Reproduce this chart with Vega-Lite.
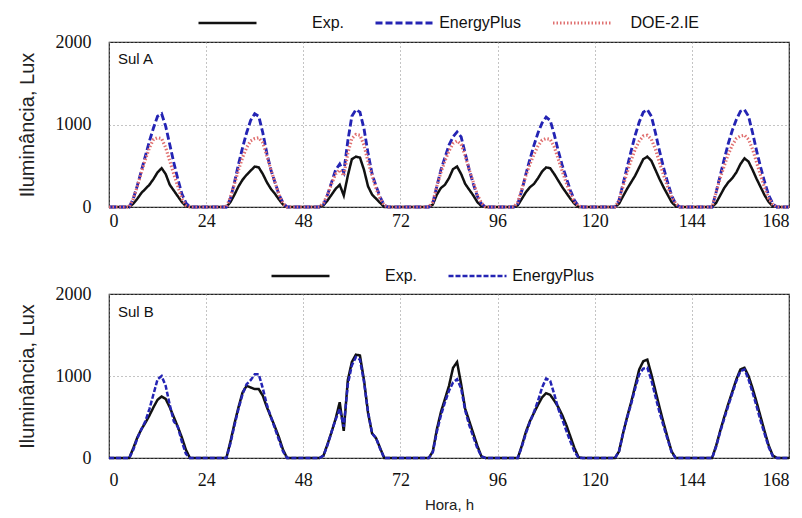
{
"$schema": "https://vega.github.io/schema/vega-lite/v6.json",
"background": "white",
"padding": {"left": 16, "top": 13, "right": 8, "bottom": 4},
"spacing": 35,
"datasets": {
"A": [
{"h":0,"s":"Exp.","v":0},{"h":5,"s":"Exp.","v":0},{"h":6,"s":"Exp.","v":40},{"h":7,"s":"Exp.","v":100},{"h":8,"s":"Exp.","v":170},{"h":9,"s":"Exp.","v":220},{"h":10,"s":"Exp.","v":270},{"h":11,"s":"Exp.","v":340},{"h":12,"s":"Exp.","v":420},{"h":13,"s":"Exp.","v":470},{"h":14,"s":"Exp.","v":400},{"h":15,"s":"Exp.","v":270},{"h":16,"s":"Exp.","v":200},{"h":17,"s":"Exp.","v":130},{"h":18,"s":"Exp.","v":60},{"h":19,"s":"Exp.","v":10},{"h":20,"s":"Exp.","v":0},
{"h":29,"s":"Exp.","v":0},{"h":30,"s":"Exp.","v":60},{"h":31,"s":"Exp.","v":150},{"h":32,"s":"Exp.","v":250},{"h":33,"s":"Exp.","v":330},{"h":34,"s":"Exp.","v":390},{"h":35,"s":"Exp.","v":440},{"h":36,"s":"Exp.","v":490},{"h":37,"s":"Exp.","v":480},{"h":38,"s":"Exp.","v":400},{"h":39,"s":"Exp.","v":300},{"h":40,"s":"Exp.","v":220},{"h":41,"s":"Exp.","v":160},{"h":42,"s":"Exp.","v":90},{"h":43,"s":"Exp.","v":30},{"h":44,"s":"Exp.","v":0},
{"h":52,"s":"Exp.","v":0},{"h":53,"s":"Exp.","v":20},{"h":54,"s":"Exp.","v":80},{"h":55,"s":"Exp.","v":150},{"h":56,"s":"Exp.","v":220},{"h":57,"s":"Exp.","v":270},{"h":58,"s":"Exp.","v":140},{"h":59,"s":"Exp.","v":380},{"h":60,"s":"Exp.","v":580},{"h":61,"s":"Exp.","v":610},{"h":62,"s":"Exp.","v":600},{"h":63,"s":"Exp.","v":450},{"h":64,"s":"Exp.","v":250},{"h":65,"s":"Exp.","v":150},{"h":66,"s":"Exp.","v":100},{"h":67,"s":"Exp.","v":50},{"h":68,"s":"Exp.","v":0},
{"h":79,"s":"Exp.","v":0},{"h":80,"s":"Exp.","v":30},{"h":81,"s":"Exp.","v":150},{"h":82,"s":"Exp.","v":230},{"h":83,"s":"Exp.","v":270},{"h":84,"s":"Exp.","v":350},{"h":85,"s":"Exp.","v":460},{"h":86,"s":"Exp.","v":490},{"h":87,"s":"Exp.","v":400},{"h":88,"s":"Exp.","v":280},{"h":89,"s":"Exp.","v":210},{"h":90,"s":"Exp.","v":140},{"h":91,"s":"Exp.","v":60},{"h":92,"s":"Exp.","v":10},{"h":93,"s":"Exp.","v":0},
{"h":100,"s":"Exp.","v":0},{"h":101,"s":"Exp.","v":20},{"h":102,"s":"Exp.","v":100},{"h":103,"s":"Exp.","v":180},{"h":104,"s":"Exp.","v":240},{"h":105,"s":"Exp.","v":280},{"h":106,"s":"Exp.","v":350},{"h":107,"s":"Exp.","v":430},{"h":108,"s":"Exp.","v":480},{"h":109,"s":"Exp.","v":470},{"h":110,"s":"Exp.","v":400},{"h":111,"s":"Exp.","v":320},{"h":112,"s":"Exp.","v":240},{"h":113,"s":"Exp.","v":170},{"h":114,"s":"Exp.","v":100},{"h":115,"s":"Exp.","v":40},{"h":116,"s":"Exp.","v":0},
{"h":125,"s":"Exp.","v":0},{"h":126,"s":"Exp.","v":40},{"h":127,"s":"Exp.","v":130},{"h":128,"s":"Exp.","v":220},{"h":129,"s":"Exp.","v":300},{"h":130,"s":"Exp.","v":380},{"h":131,"s":"Exp.","v":480},{"h":132,"s":"Exp.","v":580},{"h":133,"s":"Exp.","v":610},{"h":134,"s":"Exp.","v":560},{"h":135,"s":"Exp.","v":450},{"h":136,"s":"Exp.","v":340},{"h":137,"s":"Exp.","v":240},{"h":138,"s":"Exp.","v":150},{"h":139,"s":"Exp.","v":60},{"h":140,"s":"Exp.","v":10},{"h":141,"s":"Exp.","v":0},
{"h":149,"s":"Exp.","v":0},{"h":150,"s":"Exp.","v":50},{"h":151,"s":"Exp.","v":140},{"h":152,"s":"Exp.","v":230},{"h":153,"s":"Exp.","v":300},{"h":154,"s":"Exp.","v":350},{"h":155,"s":"Exp.","v":420},{"h":156,"s":"Exp.","v":520},{"h":157,"s":"Exp.","v":590},{"h":158,"s":"Exp.","v":550},{"h":159,"s":"Exp.","v":450},{"h":160,"s":"Exp.","v":340},{"h":161,"s":"Exp.","v":240},{"h":162,"s":"Exp.","v":140},{"h":163,"s":"Exp.","v":60},{"h":164,"s":"Exp.","v":10},{"h":165,"s":"Exp.","v":0},{"h":168,"s":"Exp.","v":0},

{"h":0,"s":"EnergyPlus","v":0},{"h":5,"s":"EnergyPlus","v":0},{"h":6,"s":"EnergyPlus","v":100},{"h":7,"s":"EnergyPlus","v":260},{"h":8,"s":"EnergyPlus","v":440},{"h":9,"s":"EnergyPlus","v":620},{"h":10,"s":"EnergyPlus","v":800},{"h":11,"s":"EnergyPlus","v":960},{"h":12,"s":"EnergyPlus","v":1100},{"h":13,"s":"EnergyPlus","v":1130},{"h":14,"s":"EnergyPlus","v":980},{"h":15,"s":"EnergyPlus","v":760},{"h":16,"s":"EnergyPlus","v":540},{"h":17,"s":"EnergyPlus","v":340},{"h":18,"s":"EnergyPlus","v":160},{"h":19,"s":"EnergyPlus","v":50},{"h":20,"s":"EnergyPlus","v":0},
{"h":29,"s":"EnergyPlus","v":0},{"h":30,"s":"EnergyPlus","v":100},{"h":31,"s":"EnergyPlus","v":300},{"h":32,"s":"EnergyPlus","v":520},{"h":33,"s":"EnergyPlus","v":720},{"h":34,"s":"EnergyPlus","v":900},{"h":35,"s":"EnergyPlus","v":1050},{"h":36,"s":"EnergyPlus","v":1130},{"h":37,"s":"EnergyPlus","v":1100},{"h":38,"s":"EnergyPlus","v":900},{"h":39,"s":"EnergyPlus","v":650},{"h":40,"s":"EnergyPlus","v":450},{"h":41,"s":"EnergyPlus","v":300},{"h":42,"s":"EnergyPlus","v":150},{"h":43,"s":"EnergyPlus","v":50},{"h":44,"s":"EnergyPlus","v":0},
{"h":52,"s":"EnergyPlus","v":0},{"h":53,"s":"EnergyPlus","v":30},{"h":54,"s":"EnergyPlus","v":150},{"h":55,"s":"EnergyPlus","v":300},{"h":56,"s":"EnergyPlus","v":450},{"h":57,"s":"EnergyPlus","v":520},{"h":58,"s":"EnergyPlus","v":420},{"h":59,"s":"EnergyPlus","v":800},{"h":60,"s":"EnergyPlus","v":1100},{"h":61,"s":"EnergyPlus","v":1180},{"h":62,"s":"EnergyPlus","v":1150},{"h":63,"s":"EnergyPlus","v":950},{"h":64,"s":"EnergyPlus","v":650},{"h":65,"s":"EnergyPlus","v":400},{"h":66,"s":"EnergyPlus","v":250},{"h":67,"s":"EnergyPlus","v":120},{"h":68,"s":"EnergyPlus","v":20},{"h":69,"s":"EnergyPlus","v":0},
{"h":79,"s":"EnergyPlus","v":0},{"h":80,"s":"EnergyPlus","v":50},{"h":81,"s":"EnergyPlus","v":250},{"h":82,"s":"EnergyPlus","v":450},{"h":83,"s":"EnergyPlus","v":600},{"h":84,"s":"EnergyPlus","v":750},{"h":85,"s":"EnergyPlus","v":850},{"h":86,"s":"EnergyPlus","v":910},{"h":87,"s":"EnergyPlus","v":850},{"h":88,"s":"EnergyPlus","v":650},{"h":89,"s":"EnergyPlus","v":450},{"h":90,"s":"EnergyPlus","v":280},{"h":91,"s":"EnergyPlus","v":130},{"h":92,"s":"EnergyPlus","v":40},{"h":93,"s":"EnergyPlus","v":0},
{"h":100,"s":"EnergyPlus","v":0},{"h":101,"s":"EnergyPlus","v":40},{"h":102,"s":"EnergyPlus","v":200},{"h":103,"s":"EnergyPlus","v":400},{"h":104,"s":"EnergyPlus","v":580},{"h":105,"s":"EnergyPlus","v":750},{"h":106,"s":"EnergyPlus","v":900},{"h":107,"s":"EnergyPlus","v":1020},{"h":108,"s":"EnergyPlus","v":1090},{"h":109,"s":"EnergyPlus","v":1050},{"h":110,"s":"EnergyPlus","v":880},{"h":111,"s":"EnergyPlus","v":680},{"h":112,"s":"EnergyPlus","v":500},{"h":113,"s":"EnergyPlus","v":350},{"h":114,"s":"EnergyPlus","v":200},{"h":115,"s":"EnergyPlus","v":80},{"h":116,"s":"EnergyPlus","v":10},{"h":117,"s":"EnergyPlus","v":0},
{"h":125,"s":"EnergyPlus","v":0},{"h":126,"s":"EnergyPlus","v":80},{"h":127,"s":"EnergyPlus","v":280},{"h":128,"s":"EnergyPlus","v":480},{"h":129,"s":"EnergyPlus","v":680},{"h":130,"s":"EnergyPlus","v":870},{"h":131,"s":"EnergyPlus","v":1030},{"h":132,"s":"EnergyPlus","v":1150},{"h":133,"s":"EnergyPlus","v":1180},{"h":134,"s":"EnergyPlus","v":1100},{"h":135,"s":"EnergyPlus","v":900},{"h":136,"s":"EnergyPlus","v":680},{"h":137,"s":"EnergyPlus","v":480},{"h":138,"s":"EnergyPlus","v":300},{"h":139,"s":"EnergyPlus","v":140},{"h":140,"s":"EnergyPlus","v":40},{"h":141,"s":"EnergyPlus","v":0},
{"h":149,"s":"EnergyPlus","v":0},{"h":150,"s":"EnergyPlus","v":180},{"h":151,"s":"EnergyPlus","v":380},{"h":152,"s":"EnergyPlus","v":580},{"h":153,"s":"EnergyPlus","v":770},{"h":154,"s":"EnergyPlus","v":930},{"h":155,"s":"EnergyPlus","v":1060},{"h":156,"s":"EnergyPlus","v":1160},{"h":157,"s":"EnergyPlus","v":1180},{"h":158,"s":"EnergyPlus","v":1100},{"h":159,"s":"EnergyPlus","v":900},{"h":160,"s":"EnergyPlus","v":680},{"h":161,"s":"EnergyPlus","v":480},{"h":162,"s":"EnergyPlus","v":300},{"h":163,"s":"EnergyPlus","v":140},{"h":164,"s":"EnergyPlus","v":40},{"h":165,"s":"EnergyPlus","v":0},{"h":168,"s":"EnergyPlus","v":0},

{"h":0,"s":"DOE-2.IE","v":0},{"h":5,"s":"DOE-2.IE","v":0},{"h":6,"s":"DOE-2.IE","v":100},{"h":7,"s":"DOE-2.IE","v":250},{"h":8,"s":"DOE-2.IE","v":420},{"h":9,"s":"DOE-2.IE","v":580},{"h":10,"s":"DOE-2.IE","v":720},{"h":11,"s":"DOE-2.IE","v":820},{"h":12,"s":"DOE-2.IE","v":840},{"h":13,"s":"DOE-2.IE","v":830},{"h":14,"s":"DOE-2.IE","v":720},{"h":15,"s":"DOE-2.IE","v":560},{"h":16,"s":"DOE-2.IE","v":400},{"h":17,"s":"DOE-2.IE","v":250},{"h":18,"s":"DOE-2.IE","v":100},{"h":19,"s":"DOE-2.IE","v":20},{"h":20,"s":"DOE-2.IE","v":0},
{"h":29,"s":"DOE-2.IE","v":0},{"h":30,"s":"DOE-2.IE","v":120},{"h":31,"s":"DOE-2.IE","v":280},{"h":32,"s":"DOE-2.IE","v":450},{"h":33,"s":"DOE-2.IE","v":600},{"h":34,"s":"DOE-2.IE","v":720},{"h":35,"s":"DOE-2.IE","v":800},{"h":36,"s":"DOE-2.IE","v":830},{"h":37,"s":"DOE-2.IE","v":840},{"h":38,"s":"DOE-2.IE","v":780},{"h":39,"s":"DOE-2.IE","v":620},{"h":40,"s":"DOE-2.IE","v":450},{"h":41,"s":"DOE-2.IE","v":300},{"h":42,"s":"DOE-2.IE","v":150},{"h":43,"s":"DOE-2.IE","v":40},{"h":44,"s":"DOE-2.IE","v":0},
{"h":52,"s":"DOE-2.IE","v":0},{"h":53,"s":"DOE-2.IE","v":50},{"h":54,"s":"DOE-2.IE","v":150},{"h":55,"s":"DOE-2.IE","v":280},{"h":56,"s":"DOE-2.IE","v":400},{"h":57,"s":"DOE-2.IE","v":450},{"h":58,"s":"DOE-2.IE","v":380},{"h":59,"s":"DOE-2.IE","v":650},{"h":60,"s":"DOE-2.IE","v":830},{"h":61,"s":"DOE-2.IE","v":880},{"h":62,"s":"DOE-2.IE","v":870},{"h":63,"s":"DOE-2.IE","v":750},{"h":64,"s":"DOE-2.IE","v":550},{"h":65,"s":"DOE-2.IE","v":380},{"h":66,"s":"DOE-2.IE","v":220},{"h":67,"s":"DOE-2.IE","v":100},{"h":68,"s":"DOE-2.IE","v":20},{"h":69,"s":"DOE-2.IE","v":0},
{"h":79,"s":"DOE-2.IE","v":0},{"h":80,"s":"DOE-2.IE","v":60},{"h":81,"s":"DOE-2.IE","v":250},{"h":82,"s":"DOE-2.IE","v":420},{"h":83,"s":"DOE-2.IE","v":560},{"h":84,"s":"DOE-2.IE","v":680},{"h":85,"s":"DOE-2.IE","v":770},{"h":86,"s":"DOE-2.IE","v":800},{"h":87,"s":"DOE-2.IE","v":760},{"h":88,"s":"DOE-2.IE","v":620},{"h":89,"s":"DOE-2.IE","v":450},{"h":90,"s":"DOE-2.IE","v":300},{"h":91,"s":"DOE-2.IE","v":150},{"h":92,"s":"DOE-2.IE","v":50},{"h":93,"s":"DOE-2.IE","v":0},
{"h":100,"s":"DOE-2.IE","v":0},{"h":101,"s":"DOE-2.IE","v":60},{"h":102,"s":"DOE-2.IE","v":220},{"h":103,"s":"DOE-2.IE","v":380},{"h":104,"s":"DOE-2.IE","v":520},{"h":105,"s":"DOE-2.IE","v":640},{"h":106,"s":"DOE-2.IE","v":740},{"h":107,"s":"DOE-2.IE","v":810},{"h":108,"s":"DOE-2.IE","v":830},{"h":109,"s":"DOE-2.IE","v":820},{"h":110,"s":"DOE-2.IE","v":730},{"h":111,"s":"DOE-2.IE","v":580},{"h":112,"s":"DOE-2.IE","v":430},{"h":113,"s":"DOE-2.IE","v":290},{"h":114,"s":"DOE-2.IE","v":160},{"h":115,"s":"DOE-2.IE","v":60},{"h":116,"s":"DOE-2.IE","v":10},{"h":117,"s":"DOE-2.IE","v":0},
{"h":125,"s":"DOE-2.IE","v":0},{"h":126,"s":"DOE-2.IE","v":80},{"h":127,"s":"DOE-2.IE","v":250},{"h":128,"s":"DOE-2.IE","v":420},{"h":129,"s":"DOE-2.IE","v":570},{"h":130,"s":"DOE-2.IE","v":700},{"h":131,"s":"DOE-2.IE","v":800},{"h":132,"s":"DOE-2.IE","v":860},{"h":133,"s":"DOE-2.IE","v":870},{"h":134,"s":"DOE-2.IE","v":820},{"h":135,"s":"DOE-2.IE","v":700},{"h":136,"s":"DOE-2.IE","v":540},{"h":137,"s":"DOE-2.IE","v":390},{"h":138,"s":"DOE-2.IE","v":250},{"h":139,"s":"DOE-2.IE","v":120},{"h":140,"s":"DOE-2.IE","v":40},{"h":141,"s":"DOE-2.IE","v":0},
{"h":149,"s":"DOE-2.IE","v":0},{"h":150,"s":"DOE-2.IE","v":180},{"h":151,"s":"DOE-2.IE","v":350},{"h":152,"s":"DOE-2.IE","v":500},{"h":153,"s":"DOE-2.IE","v":640},{"h":154,"s":"DOE-2.IE","v":750},{"h":155,"s":"DOE-2.IE","v":830},{"h":156,"s":"DOE-2.IE","v":860},{"h":157,"s":"DOE-2.IE","v":870},{"h":158,"s":"DOE-2.IE","v":820},{"h":159,"s":"DOE-2.IE","v":700},{"h":160,"s":"DOE-2.IE","v":540},{"h":161,"s":"DOE-2.IE","v":380},{"h":162,"s":"DOE-2.IE","v":230},{"h":163,"s":"DOE-2.IE","v":100},{"h":164,"s":"DOE-2.IE","v":30},{"h":165,"s":"DOE-2.IE","v":0},{"h":168,"s":"DOE-2.IE","v":0}
],
"B": [
{"h":0,"s":"Exp.","v":0},{"h":5,"s":"Exp.","v":0},{"h":6,"s":"Exp.","v":120},{"h":7,"s":"Exp.","v":250},{"h":8,"s":"Exp.","v":350},{"h":9,"s":"Exp.","v":430},{"h":10,"s":"Exp.","v":520},{"h":11,"s":"Exp.","v":620},{"h":12,"s":"Exp.","v":710},{"h":13,"s":"Exp.","v":750},{"h":14,"s":"Exp.","v":720},{"h":15,"s":"Exp.","v":620},{"h":16,"s":"Exp.","v":500},{"h":17,"s":"Exp.","v":380},{"h":18,"s":"Exp.","v":250},{"h":19,"s":"Exp.","v":100},{"h":20,"s":"Exp.","v":0},
{"h":29,"s":"Exp.","v":0},{"h":30,"s":"Exp.","v":200},{"h":31,"s":"Exp.","v":420},{"h":32,"s":"Exp.","v":620},{"h":33,"s":"Exp.","v":800},{"h":34,"s":"Exp.","v":880},{"h":35,"s":"Exp.","v":860},{"h":36,"s":"Exp.","v":840},{"h":37,"s":"Exp.","v":840},{"h":38,"s":"Exp.","v":760},{"h":39,"s":"Exp.","v":620},{"h":40,"s":"Exp.","v":500},{"h":41,"s":"Exp.","v":380},{"h":42,"s":"Exp.","v":250},{"h":43,"s":"Exp.","v":100},{"h":44,"s":"Exp.","v":0},
{"h":52,"s":"Exp.","v":0},{"h":53,"s":"Exp.","v":30},{"h":54,"s":"Exp.","v":170},{"h":55,"s":"Exp.","v":320},{"h":56,"s":"Exp.","v":480},{"h":57,"s":"Exp.","v":680},{"h":58,"s":"Exp.","v":330},{"h":59,"s":"Exp.","v":950},{"h":60,"s":"Exp.","v":1170},{"h":61,"s":"Exp.","v":1260},{"h":62,"s":"Exp.","v":1250},{"h":63,"s":"Exp.","v":950},{"h":64,"s":"Exp.","v":550},{"h":65,"s":"Exp.","v":300},{"h":66,"s":"Exp.","v":240},{"h":67,"s":"Exp.","v":120},{"h":68,"s":"Exp.","v":0},
{"h":79,"s":"Exp.","v":0},{"h":80,"s":"Exp.","v":80},{"h":81,"s":"Exp.","v":350},{"h":82,"s":"Exp.","v":560},{"h":83,"s":"Exp.","v":720},{"h":84,"s":"Exp.","v":880},{"h":85,"s":"Exp.","v":1100},{"h":86,"s":"Exp.","v":1170},{"h":87,"s":"Exp.","v":900},{"h":88,"s":"Exp.","v":600},{"h":89,"s":"Exp.","v":450},{"h":90,"s":"Exp.","v":300},{"h":91,"s":"Exp.","v":150},{"h":92,"s":"Exp.","v":20},{"h":93,"s":"Exp.","v":0},
{"h":101,"s":"Exp.","v":0},{"h":102,"s":"Exp.","v":150},{"h":103,"s":"Exp.","v":320},{"h":104,"s":"Exp.","v":450},{"h":105,"s":"Exp.","v":550},{"h":106,"s":"Exp.","v":650},{"h":107,"s":"Exp.","v":740},{"h":108,"s":"Exp.","v":790},{"h":109,"s":"Exp.","v":770},{"h":110,"s":"Exp.","v":700},{"h":111,"s":"Exp.","v":620},{"h":112,"s":"Exp.","v":520},{"h":113,"s":"Exp.","v":400},{"h":114,"s":"Exp.","v":260},{"h":115,"s":"Exp.","v":120},{"h":116,"s":"Exp.","v":10},{"h":117,"s":"Exp.","v":0},
{"h":125,"s":"Exp.","v":0},{"h":126,"s":"Exp.","v":80},{"h":127,"s":"Exp.","v":300},{"h":128,"s":"Exp.","v":500},{"h":129,"s":"Exp.","v":680},{"h":130,"s":"Exp.","v":880},{"h":131,"s":"Exp.","v":1080},{"h":132,"s":"Exp.","v":1180},{"h":133,"s":"Exp.","v":1200},{"h":134,"s":"Exp.","v":1020},{"h":135,"s":"Exp.","v":820},{"h":136,"s":"Exp.","v":620},{"h":137,"s":"Exp.","v":430},{"h":138,"s":"Exp.","v":250},{"h":139,"s":"Exp.","v":80},{"h":140,"s":"Exp.","v":0},
{"h":149,"s":"Exp.","v":0},{"h":150,"s":"Exp.","v":150},{"h":151,"s":"Exp.","v":330},{"h":152,"s":"Exp.","v":500},{"h":153,"s":"Exp.","v":660},{"h":154,"s":"Exp.","v":810},{"h":155,"s":"Exp.","v":960},{"h":156,"s":"Exp.","v":1080},{"h":157,"s":"Exp.","v":1100},{"h":158,"s":"Exp.","v":1000},{"h":159,"s":"Exp.","v":850},{"h":160,"s":"Exp.","v":680},{"h":161,"s":"Exp.","v":500},{"h":162,"s":"Exp.","v":320},{"h":163,"s":"Exp.","v":150},{"h":164,"s":"Exp.","v":30},{"h":165,"s":"Exp.","v":0},{"h":168,"s":"Exp.","v":0},

{"h":0,"s":"EnergyPlus","v":0},{"h":5,"s":"EnergyPlus","v":0},{"h":6,"s":"EnergyPlus","v":100},{"h":7,"s":"EnergyPlus","v":240},{"h":8,"s":"EnergyPlus","v":350},{"h":9,"s":"EnergyPlus","v":450},{"h":10,"s":"EnergyPlus","v":600},{"h":11,"s":"EnergyPlus","v":780},{"h":12,"s":"EnergyPlus","v":960},{"h":13,"s":"EnergyPlus","v":1000},{"h":14,"s":"EnergyPlus","v":880},{"h":15,"s":"EnergyPlus","v":650},{"h":16,"s":"EnergyPlus","v":450},{"h":17,"s":"EnergyPlus","v":380},{"h":18,"s":"EnergyPlus","v":200},{"h":19,"s":"EnergyPlus","v":50},{"h":20,"s":"EnergyPlus","v":0},
{"h":29,"s":"EnergyPlus","v":0},{"h":30,"s":"EnergyPlus","v":180},{"h":31,"s":"EnergyPlus","v":400},{"h":32,"s":"EnergyPlus","v":600},{"h":33,"s":"EnergyPlus","v":780},{"h":34,"s":"EnergyPlus","v":900},{"h":35,"s":"EnergyPlus","v":950},{"h":36,"s":"EnergyPlus","v":1020},{"h":37,"s":"EnergyPlus","v":1020},{"h":38,"s":"EnergyPlus","v":850},{"h":39,"s":"EnergyPlus","v":650},{"h":40,"s":"EnergyPlus","v":500},{"h":41,"s":"EnergyPlus","v":360},{"h":42,"s":"EnergyPlus","v":220},{"h":43,"s":"EnergyPlus","v":80},{"h":44,"s":"EnergyPlus","v":0},
{"h":52,"s":"EnergyPlus","v":0},{"h":53,"s":"EnergyPlus","v":30},{"h":54,"s":"EnergyPlus","v":160},{"h":55,"s":"EnergyPlus","v":320},{"h":56,"s":"EnergyPlus","v":470},{"h":57,"s":"EnergyPlus","v":600},{"h":58,"s":"EnergyPlus","v":380},{"h":59,"s":"EnergyPlus","v":900},{"h":60,"s":"EnergyPlus","v":1130},{"h":61,"s":"EnergyPlus","v":1230},{"h":62,"s":"EnergyPlus","v":1200},{"h":63,"s":"EnergyPlus","v":930},{"h":64,"s":"EnergyPlus","v":560},{"h":65,"s":"EnergyPlus","v":300},{"h":66,"s":"EnergyPlus","v":240},{"h":67,"s":"EnergyPlus","v":110},{"h":68,"s":"EnergyPlus","v":0},
{"h":79,"s":"EnergyPlus","v":0},{"h":80,"s":"EnergyPlus","v":70},{"h":81,"s":"EnergyPlus","v":320},{"h":82,"s":"EnergyPlus","v":520},{"h":83,"s":"EnergyPlus","v":680},{"h":84,"s":"EnergyPlus","v":820},{"h":85,"s":"EnergyPlus","v":920},{"h":86,"s":"EnergyPlus","v":960},{"h":87,"s":"EnergyPlus","v":850},{"h":88,"s":"EnergyPlus","v":580},{"h":89,"s":"EnergyPlus","v":400},{"h":90,"s":"EnergyPlus","v":260},{"h":91,"s":"EnergyPlus","v":120},{"h":92,"s":"EnergyPlus","v":20},{"h":93,"s":"EnergyPlus","v":0},
{"h":101,"s":"EnergyPlus","v":0},{"h":102,"s":"EnergyPlus","v":140},{"h":103,"s":"EnergyPlus","v":300},{"h":104,"s":"EnergyPlus","v":440},{"h":105,"s":"EnergyPlus","v":560},{"h":106,"s":"EnergyPlus","v":700},{"h":107,"s":"EnergyPlus","v":860},{"h":108,"s":"EnergyPlus","v":970},{"h":109,"s":"EnergyPlus","v":940},{"h":110,"s":"EnergyPlus","v":780},{"h":111,"s":"EnergyPlus","v":600},{"h":112,"s":"EnergyPlus","v":470},{"h":113,"s":"EnergyPlus","v":330},{"h":114,"s":"EnergyPlus","v":200},{"h":115,"s":"EnergyPlus","v":80},{"h":116,"s":"EnergyPlus","v":0},
{"h":125,"s":"EnergyPlus","v":0},{"h":126,"s":"EnergyPlus","v":80},{"h":127,"s":"EnergyPlus","v":300},{"h":128,"s":"EnergyPlus","v":490},{"h":129,"s":"EnergyPlus","v":660},{"h":130,"s":"EnergyPlus","v":850},{"h":131,"s":"EnergyPlus","v":1020},{"h":132,"s":"EnergyPlus","v":1090},{"h":133,"s":"EnergyPlus","v":1100},{"h":134,"s":"EnergyPlus","v":950},{"h":135,"s":"EnergyPlus","v":750},{"h":136,"s":"EnergyPlus","v":560},{"h":137,"s":"EnergyPlus","v":390},{"h":138,"s":"EnergyPlus","v":230},{"h":139,"s":"EnergyPlus","v":70},{"h":140,"s":"EnergyPlus","v":0},
{"h":149,"s":"EnergyPlus","v":0},{"h":150,"s":"EnergyPlus","v":140},{"h":151,"s":"EnergyPlus","v":320},{"h":152,"s":"EnergyPlus","v":480},{"h":153,"s":"EnergyPlus","v":640},{"h":154,"s":"EnergyPlus","v":790},{"h":155,"s":"EnergyPlus","v":940},{"h":156,"s":"EnergyPlus","v":1060},{"h":157,"s":"EnergyPlus","v":1080},{"h":158,"s":"EnergyPlus","v":960},{"h":159,"s":"EnergyPlus","v":800},{"h":160,"s":"EnergyPlus","v":630},{"h":161,"s":"EnergyPlus","v":450},{"h":162,"s":"EnergyPlus","v":290},{"h":163,"s":"EnergyPlus","v":130},{"h":164,"s":"EnergyPlus","v":20},{"h":165,"s":"EnergyPlus","v":0},{"h":168,"s":"EnergyPlus","v":0}
]
},
"config": {
  "view": {"stroke": "#222", "strokeWidth": 1.2},
  "axis": {"labelFont": "Times New Roman, Liberation Serif, DejaVu Serif, serif", "labelFontSize": 18, "labelColor": "#111", "titleFont": "Liberation Sans", "titleFontWeight": "normal", "titleColor": "#222", "domain": false, "ticks": false, "grid": true, "gridColor": "#888", "gridDash": [1, 3], "gridWidth": 1},
  "legend": {"direction": "horizontal", "title": null, "labelFont": "Liberation Sans", "labelFontSize": 16, "labelColor": "#111", "symbolType": "stroke", "symbolSize": 3364, "clipHeight": 18, "labelAlign": "right", "labelOffset": 86, "columnPadding": 30}
},
"resolve": {"scale": {"color": "independent", "strokeDash": "independent", "strokeWidth": "independent"}, "legend": {"color": "independent", "strokeDash": "independent", "strokeWidth": "independent"}},
"vconcat": [
{
  "width": 680, "height": 165,
  "layer": [
    {"data": {"name": "A"}, "mark": {"type": "line"},
     "encoding": {
      "x": {"field": "h", "type": "quantitative", "scale": {"domain": [0, 168], "nice": false}, "axis": {"values": [0, 24, 48, 72, 96, 120, 144, 168], "format": "d", "title": null, "labelPadding": 5}},
      "y": {"field": "v", "type": "quantitative", "scale": {"domain": [0, 2000], "nice": false}, "axis": {"values": [0, 1000, 2000], "format": "d", "title": "Iluminância, Lux", "titleFontSize": 20, "labelPadding": 18, "titlePadding": 18}},
      "color": {"field": "s", "type": "nominal", "scale": {"domain": ["Exp.", "EnergyPlus", "DOE-2.IE"], "range": ["#111111", "#2424b4", "#e07070"]}, "legend": {"orient": "none", "legendX": 88, "legendY": -28}},
      "strokeDash": {"field": "s", "type": "nominal", "scale": {"domain": ["Exp.", "EnergyPlus", "DOE-2.IE"], "range": [[1, 0], [7, 3], [1.5, 2]]}, "legend": {"orient": "none", "legendX": 88, "legendY": -28}},
      "strokeWidth": {"field": "s", "type": "nominal", "scale": {"domain": ["Exp.", "EnergyPlus", "DOE-2.IE"], "range": [2.5, 3.2, 1.3]}, "legend": {"orient": "none", "legendX": 88, "legendY": -28}}
     }},
    {"data": {"values": [{}]}, "mark": {"type": "text", "text": "Sul A", "align": "left", "baseline": "middle", "font": "Liberation Sans", "fontSize": 15, "color": "#111"},
     "encoding": {"x": {"datum": 2.2}, "y": {"datum": 1800}}}
  ]
},
{
  "width": 680, "height": 164,
  "layer": [
    {"data": {"name": "B"}, "mark": {"type": "line"},
     "encoding": {
      "x": {"field": "h", "type": "quantitative", "scale": {"domain": [0, 168], "nice": false}, "axis": {"values": [0, 24, 48, 72, 96, 120, 144, 168], "format": "d", "title": "Hora, h", "titleFontSize": 15, "labelPadding": 13, "titlePadding": 8}},
      "y": {"field": "v", "type": "quantitative", "scale": {"domain": [0, 2000], "nice": false}, "axis": {"values": [0, 1000, 2000], "format": "d", "title": "Iluminância, Lux", "titleFontSize": 20, "labelPadding": 18, "titlePadding": 18}},
      "color": {"field": "s", "type": "nominal", "scale": {"domain": ["Exp.", "EnergyPlus"], "range": ["#111111", "#2424b4"]}, "legend": {"orient": "none", "legendX": 161, "legendY": -27}},
      "strokeDash": {"field": "s", "type": "nominal", "scale": {"domain": ["Exp.", "EnergyPlus"], "range": [[1, 0], [5, 2]]}, "legend": {"orient": "none", "legendX": 161, "legendY": -27}},
      "strokeWidth": {"field": "s", "type": "nominal", "scale": {"domain": ["Exp.", "EnergyPlus"], "range": [2.5, 2.5]}, "legend": {"orient": "none", "legendX": 161, "legendY": -27}}
     }},
    {"data": {"values": [{}]}, "mark": {"type": "text", "text": "Sul B", "align": "left", "baseline": "middle", "font": "Liberation Sans", "fontSize": 15, "color": "#111"},
     "encoding": {"x": {"datum": 2.2}, "y": {"datum": 1780}}}
  ]
}
]
}
